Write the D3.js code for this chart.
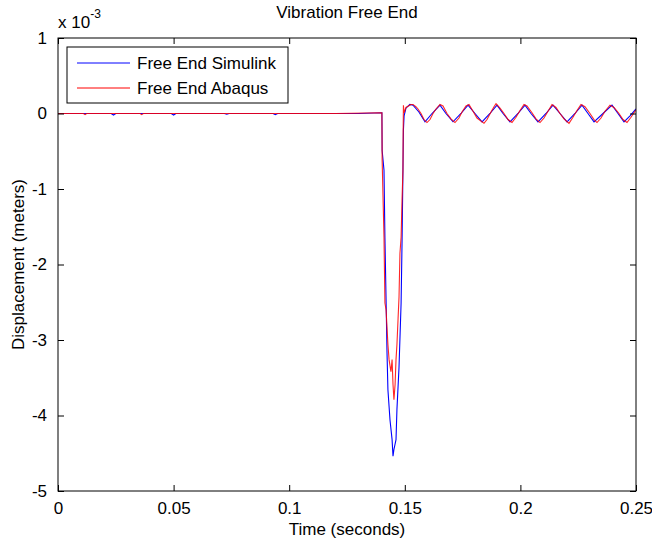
<!DOCTYPE html>
<html>
<head>
<meta charset="utf-8">
<script src="https://cdn.jsdelivr.net/npm/d3@7"></script>
<style>
  body { margin: 0; background: #fff; }
  svg text { font-family: "Liberation Sans", Arial, sans-serif; fill: #000; }
</style>
</head>
<body>
<script>
// time in seconds, displacement in units of 1e-3 m
var simTime = [0, 0.0230, 0.0240, 0.0250, 0.0490, 0.0500, 0.0510, 0.0720, 0.0730, 0.0740, 0.0930, 0.0940, 0.0950, 0.100, 0.130, 0.1401,
  0.1402, 0.1410, 0.1414, 0.1419, 0.1423, 0.1427, 0.1436, 0.1445, 0.1449, 0.1453, 0.1462, 0.1466, 0.1475, 0.1484, 0.1488, 0.1492, 0.1494, 0.1497, 0.1505, 0.1522,
  0.15355, 0.1561, 0.15874, 0.16177, 0.16522, 0.1678, 0.17085, 0.17431, 0.17734, 0.18037, 0.18339, 0.18685, 0.18988, 0.19248, 0.1955, 0.19896,
  0.20199, 0.20459, 0.20761, 0.21107, 0.2141, 0.21713, 0.22016, 0.22362, 0.22665, 0.22924, 0.23184, 0.23573, 0.23962, 0.24221, 0.24481, 0.2474, 0.25];
var simDisp = [0, 0, -0.02, 0, 0, -0.02, 0, 0, -0.01, 0, 0, -0.015, 0, 0, 0, 0.01,
  -0.49, -0.75, -1.64, -2.47, -3.16, -3.66, -4.06, -4.32, -4.54, -4.45, -4.32, -3.92, -3.36, -2.51, -1.72, -0.75, -0.22, -0.03, 0.07, 0.12,
  0.11, 0.02, -0.11, 0.0, 0.11, 0.0, -0.11, 0.0, 0.11, 0.0, -0.11, 0.0, 0.11, 0.0, -0.11, 0.0,
  0.11, 0.0, -0.11, 0.0, 0.11, 0.0, -0.11, 0.0, 0.11, 0.0, -0.11, 0.0, 0.11, 0.0, -0.11, -0.03, 0.06];

var abqTime = [0, 0.0110, 0.0117, 0.0124, 0.0355, 0.0362, 0.0369, 0.060, 0.090, 0.120, 0.1401,
  0.1402, 0.1410, 0.1414, 0.1419, 0.1423, 0.1427, 0.1432, 0.1440, 0.1445, 0.1449, 0.1453, 0.1458, 0.1462, 0.1466, 0.1471, 0.1475, 0.1479, 0.1484, 0.1488, 0.1492, 0.1493, 0.1494, 0.1497, 0.1505, 0.1527,
  0.15355, 0.1548, 0.15571, 0.15701, 0.1583, 0.1596, 0.1609, 0.1622, 0.1635, 0.16522, 0.16652, 0.16825, 0.16998, 0.17171, 0.17344, 0.17474, 0.17647, 0.17777,
  0.1795, 0.18123, 0.18426, 0.18556, 0.18729, 0.18858, 0.18945, 0.19118, 0.19291, 0.19464, 0.19637, 0.1981, 0.19983, 0.20156, 0.20285,
  0.20502, 0.20675, 0.20848, 0.21021, 0.21194, 0.21367, 0.2154, 0.21713, 0.21886, 0.22102, 0.22275, 0.22448, 0.22621, 0.22794,
  0.2301, 0.23184, 0.23313, 0.23486, 0.23659, 0.23875, 0.24048, 0.24265, 0.24438, 0.24611, 0.24784, 0.25];
var abqDisp = [0, 0, -0.015, 0, 0, -0.015, 0, 0, 0, 0, 0.01,
  -0.62, -1.64, -2.51, -2.60, -2.83, -3.06, -3.26, -3.42, -3.26, -3.59, -3.79, -3.59, -3.26, -3.06, -2.71, -2.43, -1.85, -1.64, -1.15, -0.75, -0.22, 0.11, 0.01, 0.08, 0.12,
  0.12, 0.09, 0.06, 0.0, -0.08, -0.12, -0.08, 0.0, 0.06, 0.12, 0.10, 0.0, -0.07, -0.12, -0.06, 0.02, 0.10, 0.12,
  0.03, -0.06, -0.13, -0.08, 0.02, 0.09, 0.13, 0.07, 0.0, -0.08, -0.12, -0.05, 0.04, 0.12, 0.10,
  0.01, -0.07, -0.12, -0.06, 0.03, 0.12, 0.08, 0.0, -0.07, -0.13, -0.05, 0.04, 0.12, 0.09,
  0.0, -0.08, -0.12, -0.06, 0.03, 0.11, 0.08, 0.0, -0.08, -0.12, -0.05, 0.05];

var xTicks = [0, 0.05, 0.1, 0.15, 0.2, 0.25];
var yTicks = [-5, -4, -3, -2, -1, 0, 1];
var seriesNames = ["Free End Simulink", "Free End Abaqus"];
var seriesColors = ["#0000ff", "#ff0000"];

var W = 652, H = 542;
var m = {left: 58, top: 38, right: 16, bottom: 51};
var iw = W - m.left - m.right, ih = H - m.top - m.bottom;

var svg = d3.select("body").append("svg").attr("width", W).attr("height", H);

var x = d3.scaleLinear().domain([0, 0.25]).range([0, iw]);
var y = d3.scaleLinear().domain([-5, 1]).range([ih, 0]);

var g = svg.append("g").attr("transform", "translate(" + m.left + "," + m.top + ")");

g.append("defs").append("clipPath").attr("id", "clip")
  .append("rect").attr("width", iw).attr("height", ih);

var line = d3.line().x(function(d) { return x(d[0]); }).y(function(d) { return y(d[1]); });

var sim = d3.zip(simTime, simDisp);
var abq = d3.zip(abqTime, abqDisp);

var plot = g.append("g").attr("clip-path", "url(#clip)");
plot.append("path").datum(sim).attr("d", line)
  .attr("fill", "none").attr("stroke", seriesColors[0]).attr("stroke-width", 1.1);
plot.append("path").datum(abq).attr("d", line)
  .attr("fill", "none").attr("stroke", seriesColors[1]).attr("stroke-width", 1.1).attr("stroke-opacity", 0.85);

// axes, ticks inside on all four sides
function styleAxis(sel) {
  sel.select(".domain").remove();
  sel.selectAll("line").attr("stroke", "#000");
  sel.selectAll("text").style("font-size", "17px");
}
var fmt = function(d) { return String(d); };
g.append("g").attr("transform", "translate(0," + ih + ")")
  .call(d3.axisBottom(x).tickValues(xTicks).tickSize(-6).tickPadding(11).tickFormat(fmt)).call(styleAxis);
g.append("g")
  .call(d3.axisTop(x).tickValues(xTicks).tickSize(-6).tickFormat("")).call(styleAxis);
g.append("g")
  .call(d3.axisLeft(y).tickValues(yTicks).tickSize(-6).tickPadding(11).tickFormat(fmt)).call(styleAxis);
g.append("g").attr("transform", "translate(" + iw + ",0)")
  .call(d3.axisRight(y).tickValues(yTicks).tickSize(-6).tickFormat("")).call(styleAxis);

g.append("rect").attr("width", iw).attr("height", ih)
  .attr("fill", "none").attr("stroke", "#000").attr("stroke-width", 1);

// exponent label
var ex = svg.append("text").attr("x", m.left).attr("y", 28).style("font-size", "17px");
ex.append("tspan").text("x 10");
ex.append("tspan").attr("dy", -10).style("font-size", "12px").text("-3");

svg.append("text").attr("x", m.left + iw / 2).attr("y", 18).attr("text-anchor", "middle")
  .style("font-size", "17px").text("Vibration Free End");
svg.append("text").attr("x", m.left + iw / 2).attr("y", 535).attr("text-anchor", "middle")
  .style("font-size", "17px").text("Time (seconds)");
svg.append("text").attr("transform", "translate(24," + (m.top + ih / 2) + ") rotate(-90)")
  .attr("text-anchor", "middle").style("font-size", "17px").text("Displacement (meters)");

// legend
var lg = svg.append("g").attr("transform", "translate(67,47)");
lg.append("rect").attr("width", 221).attr("height", 56)
  .attr("fill", "#fff").attr("stroke", "#000");
seriesNames.forEach(function(name, i) {
  var ly = 16 + i * 25;
  lg.append("line").attr("x1", 10).attr("x2", 63).attr("y1", ly).attr("y2", ly)
    .attr("stroke", seriesColors[i]).attr("stroke-width", 1);
  lg.append("text").attr("x", 70).attr("y", ly + 6).style("font-size", "17px").text(name);
});
</script>
</body>
</html>
